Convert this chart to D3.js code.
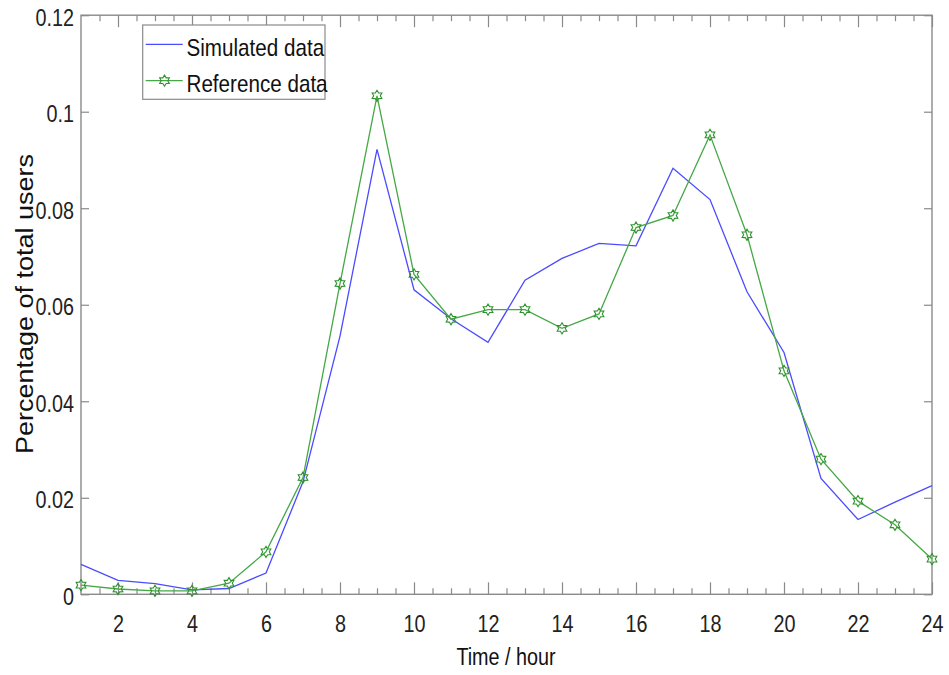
<!DOCTYPE html>
<html>
<head>
<meta charset="utf-8">
<script src="https://cdn.jsdelivr.net/npm/d3@7"></script>
<style>
  html, body { margin: 0; padding: 0; background: #fff; }
  svg { display: block; font-family: "Liberation Sans", Arial, sans-serif; }
</style>
</head>
<body>
<svg id="chart" width="949" height="675"></svg>
<script>
// hourly share of users, simulated vs reference

const hours = [1, 2, 3, 4, 5, 6, 7, 8, 9, 10, 11, 12, 13, 14, 15, 16, 17, 18, 19, 20, 21, 22, 23, 24];
const simulated = [0.0062, 0.0029, 0.0022, 0.0009, 0.0012, 0.0044, 0.0233, 0.0535, 0.0922, 0.0631, 0.0571, 0.0522,
                   0.0651, 0.0696, 0.0727, 0.0722, 0.0883, 0.0818, 0.0627, 0.0501, 0.0240, 0.0155, 0.0191, 0.0225];
const reference = [0.0019, 0.0011, 0.0007, 0.0007, 0.0023, 0.0088, 0.0242, 0.0644, 0.1033, 0.0663, 0.0570, 0.0590,
                   0.0590, 0.0551, 0.0581, 0.0760, 0.0785, 0.0952, 0.0745, 0.0463, 0.0280, 0.0193, 0.0144, 0.0073];
const xTicks = [2, 4, 6, 8, 10, 12, 14, 16, 18, 20, 22, 24];
const xMinorTicks = [1.5, 2.5, 3, 3.5, 4.5, 5, 5.5, 6.5, 7, 7.5, 8.5, 9, 9.5, 10.5, 11, 11.5, 12.5, 13, 13.5,
                     14.5, 15, 15.5, 16.5, 17, 17.5, 18.5, 19, 19.5, 20.5, 21, 21.5, 22.5, 23, 23.5];
const yTicks = [0, 0.02, 0.04, 0.06, 0.08, 0.1, 0.12];
const yTickLabels = ["0", "0.02", "0.04", "0.06", "0.08", "0.1", "0.12"];
const seriesNames = ["Simulated data", "Reference data"];

const axisColor = "#8a8a8a";
const blue = "#4b4bff";
const green = "#45a845";
const greenMark = "#2f922f";
const squeeze = 0.86;

const svg = d3.select("#chart");
const plotL = 81, plotR = 932, plotT = 15.2, plotB = 594.3;

const x = d3.scaleLinear().domain([1, 24]).range([plotL, plotR]);
const y = d3.scaleLinear().domain([0, 0.12]).range([plotB, plotT]);

function styleAxis(g) {
  g.select(".domain").remove();
  g.selectAll(".tick line").attr("stroke", axisColor).attr("stroke-width", 1.2);
}

// frame
svg.append("rect")
  .attr("x", plotL).attr("y", plotT)
  .attr("width", plotR - plotL).attr("height", plotB - plotT)
  .attr("fill", "none").attr("stroke", axisColor).attr("stroke-width", 1.4);

// bottom axis
const xAxis = svg.append("g").attr("transform", `translate(0,${plotB})`)
  .call(d3.axisBottom(x).tickValues(xTicks).tickSize(-12).tickPadding(0).tickFormat(d3.format("d")))
  .call(styleAxis);
xAxis.selectAll(".tick text")
  .attr("y", 0).attr("dy", null)
  .attr("transform", `translate(0,37.5) scale(${squeeze},1)`)
  .attr("font-size", 23).attr("fill", "#222");

svg.append("g").attr("transform", `translate(0,${plotB})`)
  .call(d3.axisBottom(x).tickValues(xMinorTicks).tickSize(-6).tickFormat(""))
  .call(styleAxis);

// top axis
svg.append("g").attr("transform", `translate(0,${plotT})`)
  .call(d3.axisTop(x).tickValues(xTicks).tickSize(-12).tickFormat(""))
  .call(styleAxis);
svg.append("g").attr("transform", `translate(0,${plotT})`)
  .call(d3.axisTop(x).tickValues(xMinorTicks).tickSize(-6).tickFormat(""))
  .call(styleAxis);

// left axis
const yAxis = svg.append("g").attr("transform", `translate(${plotL},0)`)
  .call(d3.axisLeft(y).tickValues(yTicks).tickSize(-8).tickPadding(0)
    .tickFormat((d, i) => yTickLabels[i]))
  .call(styleAxis);
yAxis.selectAll(".tick text")
  .attr("x", 0).attr("dy", null)
  .attr("transform", `translate(-7,10) scale(${squeeze},1)`)
  .attr("font-size", 23).attr("fill", "#222");

// right axis
svg.append("g").attr("transform", `translate(${plotR},0)`)
  .call(d3.axisRight(y).tickValues(yTicks).tickSize(-8).tickFormat(""))
  .call(styleAxis);

// lines
const line = d3.line().x((d, i) => x(hours[i])).y(d => y(d));

svg.append("path").datum(simulated)
  .attr("d", line).attr("fill", "none")
  .attr("stroke", blue).attr("stroke-width", 1.3);

svg.append("path").datum(reference)
  .attr("d", line).attr("fill", "none")
  .attr("stroke", green).attr("stroke-width", 1.3);

// hexagram marker
function hexagram(ro, ri) {
  const pts = d3.range(12).map(k => {
    const a = -Math.PI / 2 + k * Math.PI / 6;
    const r = k % 2 === 0 ? ro : ri;
    return [Math.cos(a) * r, Math.sin(a) * r];
  });
  return "M" + pts.map(p => p[0].toFixed(2) + "," + p[1].toFixed(2)).join("L") + "Z";
}
const star = hexagram(5.6, 3.3);

svg.append("g").selectAll("path")
  .data(reference)
  .join("path")
  .attr("transform", (d, i) => `translate(${x(hours[i])},${y(d)})`)
  .attr("d", star)
  .attr("fill", "none")
  .attr("stroke", greenMark).attr("stroke-width", 1.1);

// axis labels
svg.append("text")
  .attr("transform", `translate(${(plotL + plotR) / 2 - 0.5},665) scale(${squeeze},1)`)
  .attr("text-anchor", "middle")
  .attr("font-size", 23).attr("fill", "#111")
  .text("Time / hour");

svg.append("text")
  .attr("transform", `translate(33,304) scale(${squeeze},1) rotate(-90)`)
  .attr("text-anchor", "middle")
  .attr("font-size", 27).attr("fill", "#111")
  .text("Percentage of total users");

// legend
const legend = svg.append("g");
legend.append("rect")
  .attr("x", 142.7).attr("y", 25).attr("width", 182.3).attr("height", 74.3)
  .attr("fill", "#fff").attr("stroke", axisColor).attr("stroke-width", 1.2);

const legendRows = [
  { name: seriesNames[0], color: blue, marker: false, cy: 44.3 },
  { name: seriesNames[1], color: green, marker: true, cy: 80.7 }
];
legendRows.forEach(r => {
  legend.append("line")
    .attr("x1", 145.7).attr("x2", 182.7)
    .attr("y1", r.cy).attr("y2", r.cy)
    .attr("stroke", r.color).attr("stroke-width", 1.3);
  if (r.marker) {
    legend.append("path")
      .attr("transform", `translate(164.5,${r.cy})`)
      .attr("d", star).attr("fill", "none")
      .attr("stroke", greenMark).attr("stroke-width", 1.1);
  }
  legend.append("text")
    .attr("transform", `translate(186.5,${r.cy + 11.5}) scale(${squeeze},1)`)
    .attr("font-size", 24).attr("fill", "#111")
    .text(r.name);
});
</script>
</body>
</html>
